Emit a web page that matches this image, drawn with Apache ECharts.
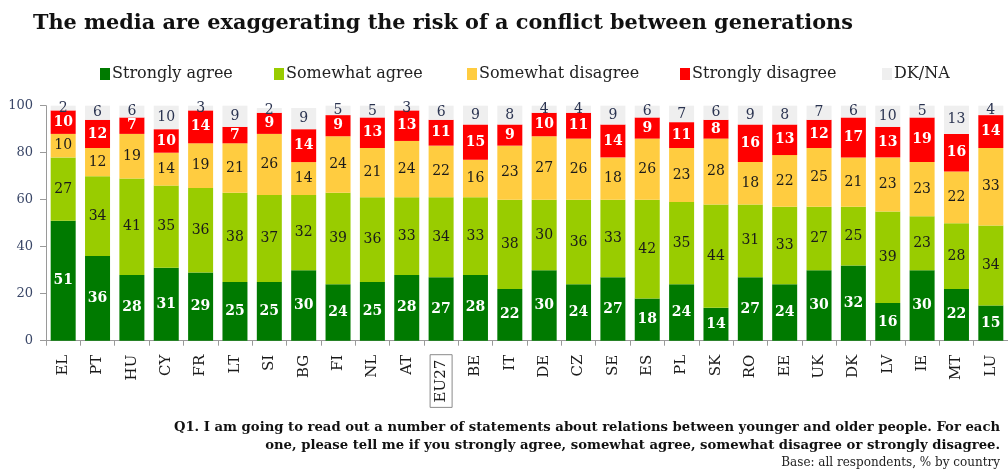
<!DOCTYPE html>
<html>
<head>
<meta charset="utf-8">
<script src="https://cdn.jsdelivr.net/npm/echarts@6/dist/echarts.min.js"></script>
<style>
  html, body { margin: 0; padding: 0; background: #ffffff; }
  #chart { width: 1008px; height: 472px; }
</style>
</head>
<body>
<div id="chart"></div>
<script>
// Country codes, in display order
const categories = ['EL','PT','HU','CY','FR','LT','SI','BG','FI','NL','AT','EU27','BE','IT','DE','CZ','SE','ES','PL','SK','RO','EE','UK','DK','LV','IE','MT','LU'];

// Answer shares (% of respondents)
const stronglyAgree    = [51,36,28,31,29,25,25,30,24,25,28,27,28,22,30,24,27,18,24,14,27,24,30,32,16,30,22,15];
const somewhatAgree    = [27,34,41,35,36,38,37,32,39,36,33,34,33,38,30,36,33,42,35,44,31,33,27,25,39,23,28,34];
const somewhatDisagree = [10,12,19,14,19,21,26,14,24,21,24,22,16,23,27,26,18,26,23,28,18,22,25,21,23,23,22,33];
const stronglyDisagree = [10,12, 7,10,14, 7, 9,14, 9,13,13,11,15, 9,10,11,14, 9,11, 8,16,13,12,17,13,19,16,14];
const dkNa             = [ 2, 6, 6,10, 3, 9, 2, 9, 5, 5, 3, 6, 9, 8, 4, 4, 9, 6, 7, 6, 9, 8, 7, 6,10, 5,13, 4];

const yTicks = [0, 20, 40, 60, 80, 100];

const SERIF = '"DejaVu Serif", Georgia, serif';

const seriesDefs = [
  { name: 'Strongly agree',    data: stronglyAgree,    color: '#007A00', label: '#ffffff', weight: 'bold' },
  { name: 'Somewhat agree',    data: somewhatAgree,    color: '#99CC00', label: '#1a1a1a', weight: 'normal' },
  { name: 'Somewhat disagree', data: somewhatDisagree, color: '#FFCC40', label: '#1a1a1a', weight: 'normal' },
  { name: 'Strongly disagree', data: stronglyDisagree, color: '#FF0000', label: '#ffffff', weight: 'bold' },
  { name: 'DK/NA',             data: dkNa,             color: '#EFEFEF', label: '#2a3350', weight: 'normal' }
];

const legendLeft = [100, 274, 467, 680, 882];

const chart = echarts.init(document.getElementById('chart'), null, { renderer: 'canvas' });

chart.setOption({
  animation: false,
  backgroundColor: '#ffffff',
  title: {
    text: 'The media are exaggerating the risk of a conflict between generations',
    left: 28,
    top: 8,
    textStyle: { fontFamily: SERIF, fontWeight: 'bold', fontSize: 20.8, color: '#111111' }
  },
  legend: seriesDefs.map((s, i) => ({
    data: [s.name],
    left: legendLeft[i],
    top: 66,
    padding: 0,
    icon: 'rect',
    itemWidth: 10,
    itemHeight: 12,
    itemGap: 4,
    textStyle: { fontFamily: SERIF, fontSize: 16, color: '#222222', padding: [0, 0, 0, -3] }
  })),
  grid: { left: 46, top: 105.7, width: 965, height: 235, containLabel: false },
  xAxis: {
    type: 'category',
    data: categories,
    axisLine: { lineStyle: { color: '#9a9a9a', width: 1 } },
    axisTick: { show: true, length: 5, lineStyle: { color: '#9a9a9a' } },
    axisLabel: {
      rotate: 90,
      margin: 14,
      interval: 0,
      fontFamily: SERIF,
      fontSize: 15,
      color: '#1a1a1a',
      formatter: v => v === 'EU27' ? '{box|' + v + '}' : v,
      rich: {
        box: {
          fontFamily: SERIF,
          fontSize: 15,
          color: '#1a1a1a',
          borderColor: '#8a8a8a',
          borderWidth: 1,
          padding: [4, 5, 3, 5]
        }
      }
    }
  },
  yAxis: {
    type: 'value',
    min: yTicks[0],
    max: yTicks[yTicks.length - 1],
    interval: 20,
    splitLine: { show: false },
    axisLine: { show: true, lineStyle: { color: '#9a9a9a' } },
    axisTick: { show: true, length: 6, lineStyle: { color: '#9a9a9a' } },
    axisLabel: { margin: 13, fontFamily: SERIF, fontSize: 13, color: '#3a4768' }
  },
  series: seriesDefs.map(s => ({
    name: s.name,
    type: 'bar',
    stack: 'total',
    barWidth: 25,
    data: s.data,
    itemStyle: { color: s.color },
    label: {
      show: true,
      position: 'inside',
      fontFamily: SERIF,
      fontSize: 14,
      fontWeight: s.weight,
      color: s.label,
      formatter: '{c}'
    }
  })),
  graphic: [
    {
      type: 'text', right: 8, top: 421,
      style: {
        text: 'Q1. I am going to read out a number of statements about relations between younger and older people. For each',
        font: 'bold 13.2px ' + SERIF, fill: '#111111', textAlign: 'right'
      }
    },
    {
      type: 'text', right: 8, top: 439,
      style: {
        text: 'one, please tell me if you strongly agree, somewhat agree, somewhat disagree or strongly disagree.',
        font: 'bold 13.2px ' + SERIF, fill: '#111111', textAlign: 'right'
      }
    },
    {
      type: 'text', right: 8, top: 457,
      style: {
        text: 'Base: all respondents, % by country',
        font: '12px ' + SERIF, fill: '#222222', textAlign: 'right'
      }
    }
  ]
});
</script>
</body>
</html>
